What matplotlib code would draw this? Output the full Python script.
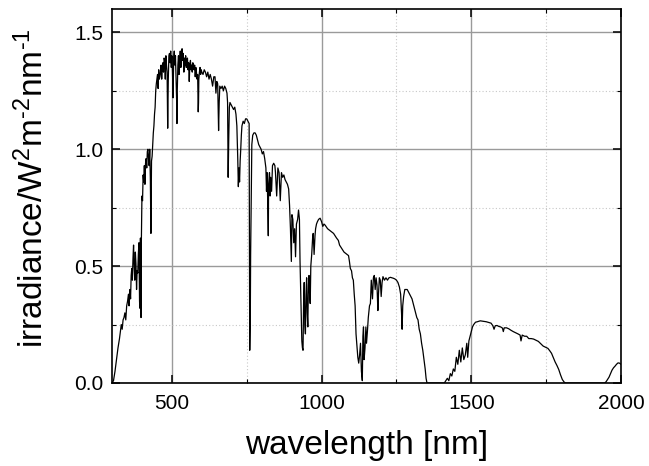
import matplotlib
matplotlib.use("Agg")
import matplotlib.pyplot as plt
from matplotlib.ticker import MultipleLocator

plt.rcParams['font.family'] = ['Liberation Sans', 'DejaVu Sans']
plt.rcParams['mathtext.fontset'] = 'custom'
plt.rcParams['mathtext.rm'] = 'Liberation Sans'
plt.rcParams['mathtext.it'] = 'Liberation Sans'

wavelength = [
    300, 305, 310, 315, 320, 325, 328, 331, 334, 337, 340, 343, 346, 349, 352, 355, 357, 360, 362, 364,
    366, 368, 370, 372, 374, 376, 378, 380, 382, 384, 386, 388, 390, 392, 393, 394, 395, 396, 397, 398,
    400, 402, 404, 406, 408, 410, 412, 414, 416, 418, 420, 422, 424, 426, 428, 430, 432, 434, 436, 438,
    440, 442, 444, 446, 448, 450, 452, 454, 456, 458, 460, 462, 464, 466, 468, 470, 472, 474, 476, 478,
    480, 482, 484, 486, 488, 490, 492, 494, 496, 498, 500, 502, 504, 506, 508, 510, 512, 514, 516, 517,
    518, 520, 522, 524, 526, 528, 530, 532, 534, 536, 538, 540, 542, 544, 546, 548, 550, 552, 554, 556,
    558, 560, 562, 564, 566, 568, 570, 572, 574, 576, 578, 580, 582, 584, 586, 588, 589, 590, 592, 594,
    596, 598, 600, 604, 608, 612, 616, 620, 624, 628, 632, 636, 640, 644, 647, 650, 653, 656, 658, 660,
    664, 668, 672, 676, 680, 684, 686, 688, 690, 692, 694, 698, 702, 706, 710, 714, 717, 720, 722, 724,
    726, 728, 730, 732, 734, 738, 742, 746, 750, 754, 758, 759, 760, 762, 763, 765, 767, 770, 774, 778,
    782, 786, 790, 794, 798, 802, 806, 810, 814, 816, 818, 820, 822, 823, 826, 828, 830, 833, 836, 840,
    844, 846, 850, 854, 858, 862, 866, 870, 874, 878, 882, 886, 890, 893, 896, 899, 901, 904, 907, 910,
    913, 916, 920, 923, 926, 928, 930, 932, 934, 936, 938, 940, 942, 944, 946, 948, 950, 952, 954, 956,
    958, 960, 962, 964, 967, 970, 972, 975, 978, 980, 983, 986, 990, 995, 1000, 1004, 1008, 1012, 1020, 1030,
    1040, 1050, 1056, 1060, 1065, 1070, 1075, 1080, 1085, 1090, 1093, 1096, 1100, 1103, 1106, 1109, 1112, 1115, 1118, 1121,
    1124, 1127, 1130, 1133, 1136, 1138, 1140, 1142, 1145, 1148, 1150, 1153, 1156, 1160, 1163, 1166, 1168, 1170, 1173, 1176,
    1179, 1182, 1185, 1188, 1190, 1193, 1196, 1199, 1202, 1205, 1210, 1215, 1220, 1225, 1230, 1235, 1240, 1245, 1250, 1255,
    1260, 1264, 1267, 1269, 1271, 1274, 1278, 1282, 1286, 1290, 1294, 1298, 1302, 1306, 1310, 1314, 1318, 1322, 1326, 1330,
    1334, 1338, 1342, 1346, 1349, 1352, 1410, 1415, 1420, 1425, 1430, 1435, 1440, 1445, 1450, 1455, 1460, 1465, 1470, 1475,
    1480, 1485, 1488, 1492, 1496, 1500, 1504, 1508, 1514, 1520, 1530, 1540, 1550, 1560, 1566, 1572, 1576, 1580, 1586, 1592,
    1598, 1604, 1607, 1610, 1618, 1625, 1632, 1640, 1648, 1656, 1663, 1666, 1670, 1678, 1685, 1692, 1700, 1708, 1716, 1724,
    1732, 1740, 1748, 1756, 1762, 1768, 1774, 1780, 1786, 1792, 1798, 1804, 1810, 1815, 1945, 1950, 1955, 1960, 1965, 1970,
    1975, 1980, 1985, 1990, 1995, 2000,
]

irradiance = [
    0.0, 0.01, 0.05, 0.10, 0.15, 0.19, 0.22, 0.25, 0.23, 0.27, 0.28, 0.30, 0.27, 0.33, 0.35, 0.38, 0.33, 0.40, 0.36, 0.46,
    0.49, 0.44, 0.53, 0.59, 0.50, 0.44, 0.56, 0.51, 0.40, 0.48, 0.47, 0.55, 0.60, 0.35, 0.32, 0.52, 0.62, 0.30, 0.28, 0.60,
    0.80, 0.78, 0.89, 0.86, 0.93, 0.85, 0.94, 0.96, 0.92, 0.99, 1.00, 0.96, 0.93, 1.00, 0.88, 0.64, 0.95, 0.97, 1.02, 1.07,
    1.10, 1.15, 1.18, 1.25, 1.28, 1.30, 1.32, 1.26, 1.34, 1.30, 1.31, 1.33, 1.36, 1.30, 1.35, 1.37, 1.33, 1.39, 1.38, 1.30,
    1.40, 1.36, 1.33, 1.09, 1.30, 1.40, 1.41, 1.37, 1.42, 1.35, 1.40, 1.33, 1.22, 1.39, 1.42, 1.36, 1.40, 1.30, 1.20, 1.11,
    1.25, 1.36, 1.40, 1.32, 1.38, 1.42, 1.35, 1.40, 1.43, 1.38, 1.41, 1.33, 1.39, 1.36, 1.40, 1.35, 1.38, 1.39, 1.34, 1.37,
    1.29, 1.36, 1.38, 1.34, 1.36, 1.33, 1.37, 1.35, 1.34, 1.36, 1.31, 1.35, 1.33, 1.30, 1.32, 1.16, 1.20, 1.30, 1.33, 1.35,
    1.32, 1.34, 1.33, 1.32, 1.34, 1.33, 1.31, 1.33, 1.30, 1.32, 1.30, 1.27, 1.31, 1.31, 1.24, 1.29, 1.28, 1.08, 1.20, 1.27,
    1.26, 1.27, 1.25, 1.27, 1.26, 1.24, 1.20, 0.88, 1.05, 1.18, 1.20, 1.19, 1.18, 1.17, 1.18, 1.15, 1.10, 0.96, 0.84, 0.92,
    0.86, 0.95, 1.00, 1.06, 1.10, 1.12, 1.11, 1.13, 1.13, 1.12, 1.11, 0.60, 0.14, 0.30, 0.55, 0.80, 1.02, 1.06, 1.07, 1.07,
    1.06, 1.04, 1.02, 1.01, 1.00, 0.98, 0.99, 0.96, 0.92, 0.82, 0.90, 0.78, 0.63, 0.85, 0.90, 0.80, 0.88, 0.82, 0.93, 0.94,
    0.93, 0.90, 0.80, 0.92, 0.90, 0.78, 0.90, 0.88, 0.89, 0.87, 0.86, 0.85, 0.83, 0.76, 0.66, 0.52, 0.72, 0.70, 0.60, 0.66,
    0.54, 0.68, 0.70, 0.74, 0.70, 0.52, 0.40, 0.30, 0.18, 0.15, 0.14, 0.35, 0.43, 0.25, 0.21, 0.38, 0.45, 0.30, 0.24, 0.42,
    0.46, 0.38, 0.34, 0.50, 0.55, 0.62, 0.64, 0.55, 0.63, 0.66, 0.68, 0.69, 0.70, 0.705, 0.69, 0.67, 0.68, 0.675, 0.66, 0.65,
    0.64, 0.62, 0.61, 0.59, 0.58, 0.57, 0.56, 0.555, 0.55, 0.545, 0.52, 0.49, 0.48, 0.45, 0.44, 0.38, 0.33, 0.21, 0.16, 0.11,
    0.085, 0.12, 0.17, 0.05, 0.01, 0.20, 0.24, 0.10, 0.15, 0.24, 0.17, 0.22, 0.28, 0.33, 0.34, 0.44, 0.40, 0.36, 0.45, 0.46,
    0.40, 0.45, 0.42, 0.31, 0.38, 0.45, 0.44, 0.37, 0.43, 0.455, 0.44, 0.45, 0.44, 0.45, 0.452, 0.45, 0.448, 0.445, 0.44, 0.43,
    0.41, 0.38, 0.30, 0.23, 0.33, 0.37, 0.40, 0.40, 0.40, 0.39, 0.38, 0.37, 0.36, 0.34, 0.32, 0.30, 0.28, 0.27, 0.23, 0.21,
    0.17, 0.14, 0.10, 0.06, 0.02, 0.0, 0.0, 0.01, 0.02, 0.01, 0.04, 0.03, 0.06, 0.05, 0.11, 0.08, 0.14, 0.09, 0.15, 0.10,
    0.12, 0.17, 0.11, 0.18, 0.20, 0.22, 0.24, 0.25, 0.26, 0.262, 0.266, 0.264, 0.262, 0.258, 0.256, 0.245, 0.23, 0.245, 0.246, 0.242,
    0.24, 0.235, 0.22, 0.236, 0.236, 0.232, 0.226, 0.22, 0.215, 0.21, 0.205, 0.18, 0.205, 0.20, 0.20, 0.19, 0.19, 0.188, 0.183, 0.178,
    0.168, 0.158, 0.153, 0.148, 0.138, 0.127, 0.108, 0.09, 0.075, 0.058, 0.035, 0.015, 0.004, 0.0, 0.0, 0.005, 0.015, 0.025, 0.04, 0.055,
    0.065, 0.072, 0.08, 0.086, 0.085, 0.08,
]

x_ticks = [500, 1000, 1500, 2000]
y_ticks = [0.0, 0.5, 1.0, 1.5]
y_tick_labels = ["0.0", "0.5", "1.0", "1.5"]

fig = plt.figure(figsize=(6.49, 4.66), dpi=100)
ax = fig.add_axes([112/649, (466-383)/466, (621-112)/649, (383-9)/466])

ax.plot(wavelength, irradiance, color='black', lw=0.9)

ax.set_xlim(300, 2000)
ax.set_ylim(0, 1.6)
ax.set_xticks(x_ticks)
ax.set_yticks(y_ticks)
ax.set_yticklabels(y_tick_labels)
ax.xaxis.set_minor_locator(MultipleLocator(250))
ax.yaxis.set_minor_locator(MultipleLocator(0.25))

ax.grid(True, which='major', color='#9a9a9a', lw=1.0, ls='-')
ax.grid(True, which='minor', color='#c8c8c8', lw=0.8, ls=(0, (1, 2)))
ax.set_axisbelow(True)

ax.tick_params(which='both', direction='in', top=True, right=True, labelsize=15, colors='black')
ax.tick_params(axis='x', pad=8)
ax.tick_params(axis='y', pad=6)
ax.tick_params(which='major', length=6, width=1.1)
ax.tick_params(which='minor', length=3, width=0.8)
for s in ax.spines.values():
    s.set_linewidth(1.2)
    s.set_color('black')

ax.set_xlabel('wavelength [nm]', fontsize=24, labelpad=12)
ax.set_ylabel(r'irradiance/W$^{2}$m$^{\text{-}2}$nm$^{\text{-}1}$', fontsize=24)
ax.yaxis.set_label_coords(-0.122, 0.52)

fig.savefig('out.png', dpi=100)
